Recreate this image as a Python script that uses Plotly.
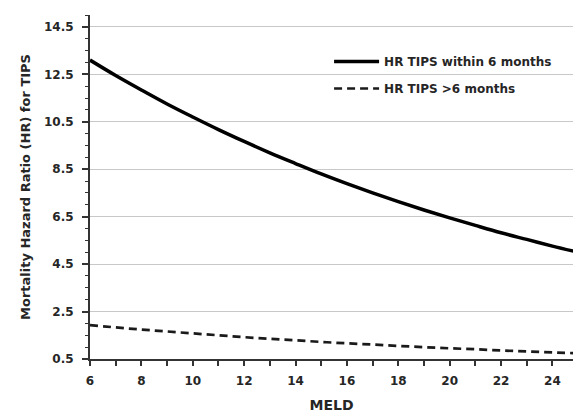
import plotly.graph_objects as go

meld = [6, 7, 8, 9, 10, 11, 12, 13, 14, 15, 16, 17, 18, 19, 20, 21, 22, 23, 24, 25]
hr_within_6 = [13.10, 12.45, 11.84, 11.25, 10.70, 10.17, 9.67, 9.19, 8.74, 8.30,
               7.89, 7.50, 7.13, 6.78, 6.45, 6.13, 5.82, 5.54, 5.26, 5.00]
hr_after_6 = [1.93, 1.83, 1.74, 1.66, 1.58, 1.50, 1.42, 1.35, 1.29, 1.22,
              1.16, 1.11, 1.05, 1.00, 0.95, 0.91, 0.86, 0.82, 0.78, 0.74]
y_ticks = [0.5, 2.5, 4.5, 6.5, 8.5, 10.5, 12.5, 14.5]
x_ticks = [6, 8, 10, 12, 14, 16, 18, 20, 22, 24]

FONT = "DejaVu Sans"
TXT = "#262626"
AX = "#333333"

fig = go.Figure()
fig.add_trace(go.Scatter(x=meld, y=hr_within_6, mode="lines",
                         name="HR TIPS within 6 months", legendgroup="a",
                         line=dict(color="black", width=3.5, shape="spline")))
fig.add_trace(go.Scatter(x=meld, y=hr_after_6, mode="lines",
                         name="HR TIPS >6 months", legendgroup="b",
                         line=dict(color="#1a1a1a", width=2.7, dash="8px,5px", shape="spline")))

fig.update_layout(
    width=573, height=414,
    margin=dict(l=90, r=0, t=15, b=55),
    paper_bgcolor="white", plot_bgcolor="white",
    font=dict(family=FONT, color=TXT, size=12),
    showlegend=True,
    legend=dict(x=0.495, y=0.907, xanchor="left", yanchor="top",
                bgcolor="rgba(0,0,0,0)",
                font=dict(family=FONT, size=12, color=TXT, weight="bold"),
                tracegroupgap=8, itemwidth=45),
    xaxis=dict(range=[6, 24.8], tickvals=x_ticks, automargin=False,
               ticks="outside", ticklen=5, tickwidth=1.5, tickcolor=AX,
               ticklabelstandoff=5,
               showline=True, linecolor=AX, linewidth=2,
               showgrid=False, zeroline=False,
               minor=dict(dtick=1, tick0=6, ticks="outside", ticklen=5,
                          tickwidth=1.5, tickcolor=AX),
               tickfont=dict(family=FONT, size=12, weight="bold", color=TXT),
               title=dict(text="MELD", standoff=13,
                          font=dict(family=FONT, size=14, weight="bold", color=TXT))),
    yaxis=dict(range=[0.5, 15], tickvals=y_ticks, ticktext=[str(v) for v in y_ticks],
               automargin=False,
               ticks="outside", ticklen=6, tickwidth=1.5, tickcolor=AX,
               ticklabelstandoff=6,
               showline=True, linecolor=AX, linewidth=2,
               showgrid=True, gridcolor="#c8c8c8", gridwidth=1,
               zeroline=False,
               minor=dict(dtick=0.5, tick0=0.5, ticks="outside", ticklen=3,
                          tickwidth=1, tickcolor=AX, showgrid=False),
               tickfont=dict(family=FONT, size=12, weight="bold", color=TXT),
               title=dict(text="Mortality Hazard Ratio (HR) for TIPS", standoff=10,
                          font=dict(family=FONT, size=13, weight="bold", color=TXT))),
)

fig.write_html("out.html", config={"displayModeBar": False},
               post_script="document.body.style.margin='0';")
